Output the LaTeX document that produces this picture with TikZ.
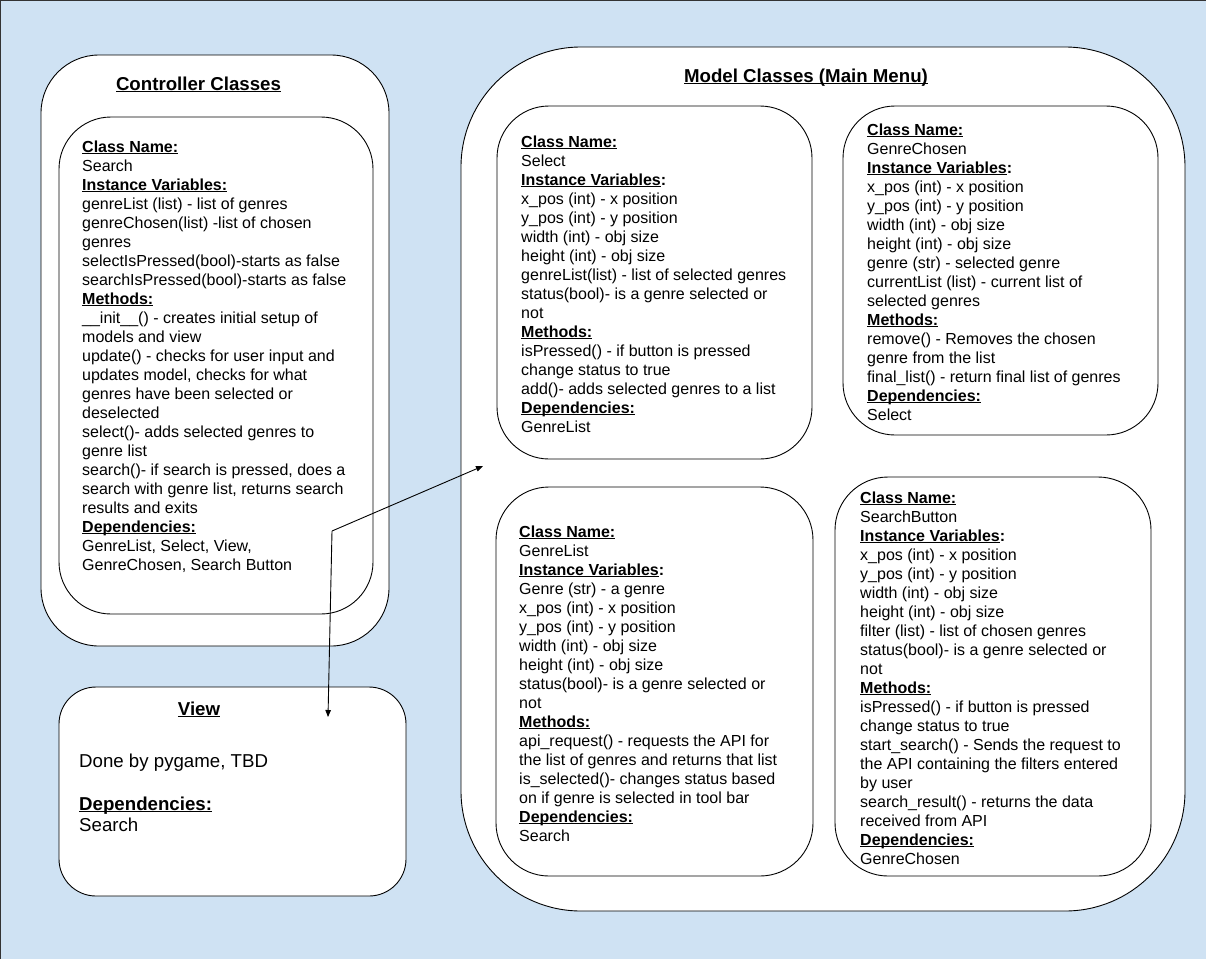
\documentclass[tikz,border=0pt]{standalone}
\usepackage{fontspec}
\setmainfont{Liberation Sans}
\usetikzlibrary{arrows.meta}
\definecolor{bgblue}{HTML}{CFE2F3}
\newcommand\myul[1]{\leavevmode\setbox0=\hbox{#1}\rlap{\rule[-2.4pt]{\wd0}{1.1pt}}\box0}
\newcommand\hd[1]{\myul{\textbf{#1}}}
\newcommand\ivar{\myul{\textbf{Instance Variables}}\textbf{:}}
\begin{document}
\begin{tikzpicture}[x=1pt,y=-1pt,
  box/.style={draw=black, line width=0.9pt, fill=white},
  body/.style={anchor=base west, inner sep=0pt, font=\fontsize{16}{19}\selectfont},
  vbody/.style={anchor=base west, inner sep=0pt, font=\fontsize{18.67}{21.5}\selectfont},
  ttl/.style={anchor=base, inner sep=0pt, font=\fontsize{18.67}{22}\selectfont\bfseries},
  conn/.style={line width=0.9pt, -{Triangle[length=7pt,width=5.5pt]}}]
\useasboundingbox (0,0) rectangle (1206,959);
\fill[bgblue] (0,0) rectangle (1206,959);
\draw[line width=2pt, black!80] (0,959) -- (0,0) -- (1206,0);

% Controller
\draw[box, rounded corners=58pt] (41,55) rectangle (389,646);
\draw[box, rounded corners=52pt] (59,117) rectangle (373,614);
\node[ttl] (ctitle) at (198.5,90) {\myul{Controller Classes}};
\node[body] (ctext) at (82,152) {\begin{minipage}[t]{330pt}
\hd{Class Name:}\\
Search\\
\hd{Instance Variables:}\\
genreList (list) - list of genres\\
genreChosen(list) -list of chosen\\
genres\\
selectIsPressed(bool)-starts as false\\
searchIsPressed(bool)-starts as false\\
\hd{Methods:}\\
\_\_init\_\_() - creates initial setup of\\
models and view\\
update() - checks for user input and\\
updates model, checks for what\\
genres have been selected or\\
deselected\\
select()- adds selected genres to\\
genre list\\
search()- if search is pressed, does a\\
search with genre list, returns search\\
results and exits\\
\hd{Dependencies:}\\
GenreList, Select, View,\\
GenreChosen, Search Button
\end{minipage}};

% View
\draw[box, rounded corners=37pt] (59,687) rectangle (406,896);
\node[ttl] (vtitle) at (199,715) {\myul{View}};
\node[vbody] (vtext) at (79,767) {\begin{minipage}[t]{320pt}
Done by pygame, TBD\\[21.5pt]
\hd{Dependencies:}\\
Search
\end{minipage}};

% Model
\draw[box, rounded corners=120pt] (461,47) rectangle (1185,911);
\node[ttl] (mtitle) at (806,82) {\myul{Model Classes (Main Menu)}};

\draw[box, rounded corners=52pt] (497,106) rectangle (812,459);
\node[body] (seltext) at (521,147) {\begin{minipage}[t]{300pt}
\hd{Class Name:}\\
Select\\
\ivar\\
x\_pos (int) - x position\\
y\_pos (int) - y position\\
width (int) - obj size\\
height (int) - obj size\\
genreList(list) - list of selected genres\\
status(bool)- is a genre selected or\\
not\\
\hd{Methods:}\\
isPressed() - if button is pressed\\
change status to true\\
add()- adds selected genres to a list\\
\hd{Dependencies:}\\
GenreList
\end{minipage}};

\draw[box, rounded corners=52pt] (843,106) rectangle (1158,435);
\node[body] (gctext) at (867,135) {\begin{minipage}[t]{300pt}
\hd{Class Name:}\\
GenreChosen\\
\ivar\\
x\_pos (int) - x position\\
y\_pos (int) - y position\\
width (int) - obj size\\
height (int) - obj size\\
genre (str) - selected genre\\
currentList (list) - current list of\\
selected genres\\
\hd{Methods:}\\
remove() - Removes the chosen\\
genre from the list\\
final\_list() - return final list of genres\\
\hd{Dependencies:}\\
Select
\end{minipage}};

\draw[box, rounded corners=53pt] (496,487) rectangle (813,876);
\node[body] (gltext) at (519,537) {\begin{minipage}[t]{300pt}
\hd{Class Name:}\\
GenreList\\
\ivar\\
Genre (str) - a genre\\
x\_pos (int) - x position\\
y\_pos (int) - y position\\
width (int) - obj size\\
height (int) - obj size\\
status(bool)- is a genre selected or\\
not\\
\hd{Methods:}\\
api\_request() - requests the API for\\
the list of genres and returns that list\\
is\_selected()- changes status based\\
on if genre is selected in tool bar\\
\hd{Dependencies:}\\
Search
\end{minipage}};

\draw[box, rounded corners=53pt] (835,477) rectangle (1151,876);
\node[body] (sbtext) at (860,503) {\begin{minipage}[t]{300pt}
\hd{Class Name:}\\
SearchButton\\
\ivar\\
x\_pos (int) - x position\\
y\_pos (int) - y position\\
width (int) - obj size\\
height (int) - obj size\\
filter (list) - list of chosen genres\\
status(bool)- is a genre selected or\\
not\\
\hd{Methods:}\\
isPressed() - if button is pressed\\
change status to true\\
start\_search() - Sends the request to\\
the API containing the filters entered\\
by user\\
search\_result() - returns the data\\
received from API\\
\hd{Dependencies:}\\
GenreChosen
\end{minipage}};

% connectors
\coordinate (j) at (332,531);
\coordinate (m) at (483,466);
\coordinate (v) at (328,717);
\draw[conn] (j) -- (m);
\draw[conn] (j) -- (v);
\end{tikzpicture}
\end{document}
